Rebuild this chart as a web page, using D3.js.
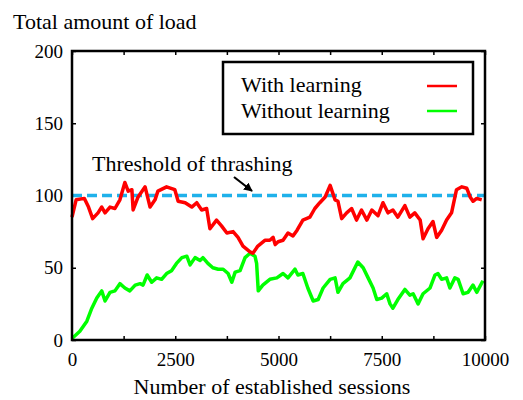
<!DOCTYPE html>
<html>
<head>
<meta charset="utf-8">
<script src="https://cdnjs.cloudflare.com/ajax/libs/d3/7.8.5/d3.min.js"></script>
</head>
<body style="margin:0">
<script>
// sessions established vs total load
const withSessions = [0, 100, 300, 400, 500, 630, 720, 800, 920, 1040, 1160, 1280, 1360, 1450, 1480, 1600, 1770, 1890, 2010, 2080, 2290, 2490, 2570, 2740, 2900, 3020, 3140, 3260, 3340, 3500, 3620, 3750, 3900, 4020, 4140, 4310, 4380, 4500, 4670, 4790, 4870, 4920, 4990, 5110, 5230, 5350, 5450, 5590, 5760, 5880, 6000, 6130, 6250, 6370, 6440, 6530, 6650, 6770, 6890, 7010, 7140, 7260, 7410, 7530, 7650, 7770, 7890, 8060, 8180, 8300, 8430, 8500, 8620, 8740, 8830, 8950, 9070, 9190, 9310, 9440, 9560, 9640, 9710, 9800, 9920];
const withLoad = [85, 97, 98, 92, 84, 88, 92, 88, 92, 91, 97, 109, 103, 104, 90, 99, 106, 92, 97, 103, 106, 104, 96, 95, 92, 95, 90, 91, 77, 83, 79, 74, 75, 71, 65, 61, 60, 65, 69, 69, 71, 66, 68, 69, 74, 72, 76, 83, 85, 91, 95, 99, 107, 97, 96, 84, 88, 91, 83, 90, 83, 90, 86, 95, 88, 90, 85, 93, 85, 88, 83, 70, 77, 82, 71, 76, 83, 88, 104, 106, 105, 99, 96, 98, 97];

const withoutSessions = [0, 190, 360, 480, 600, 720, 800, 920, 1040, 1160, 1280, 1400, 1530, 1650, 1720, 1820, 1930, 2050, 2170, 2290, 2410, 2530, 2660, 2780, 2860, 2980, 3100, 3170, 3290, 3410, 3540, 3660, 3780, 3870, 3950, 4070, 4190, 4310, 4430, 4470, 4510, 4620, 4790, 4960, 5110, 5230, 5400, 5470, 5590, 5710, 5840, 5960, 6080, 6250, 6370, 6440, 6560, 6730, 6920, 7050, 7170, 7290, 7380, 7500, 7620, 7700, 7770, 7890, 8060, 8180, 8260, 8380, 8500, 8670, 8790, 8860, 8950, 9070, 9150, 9270, 9350, 9470, 9590, 9710, 9800, 9950];
const withoutLoad = [1, 6, 13, 22, 29, 34, 27, 33, 34, 39, 36, 34, 38, 39, 38, 45, 40, 43, 42, 46, 48, 53, 57, 58, 52, 57, 55, 57, 53, 50, 49, 49, 46, 40, 47, 48, 57, 60, 58, 53, 34, 38, 42, 43, 46, 43, 49, 45, 46, 36, 27, 28, 36, 42, 43, 33, 39, 43, 54, 50, 43, 36, 28, 29, 32, 25, 22, 28, 35, 31, 32, 25, 32, 36, 45, 46, 42, 43, 36, 43, 42, 32, 33, 38, 33, 41];

const threshold = 100;
const xTicks = [0, 1250, 2500, 3750, 5000, 6250, 7500, 8750, 10000];
const yTicks = [0, 50, 100, 150, 200];
const seriesNames = ["With learning", "Without learning"];
const seriesColors = ["#ff0000", "#00ff00"];

const w = 523, h = 400;
const margin = {top: 51, right: 38, bottom: 60, left: 72};

const svg = d3.select("body").append("svg")
    .attr("width", w)
    .attr("height", h);

const x = d3.scaleLinear().domain([0, 10000]).range([margin.left, w - margin.right]);
const y = d3.scaleLinear().domain([0, 200]).range([h - margin.bottom, margin.top]);

function setFont(sel, size) {
    return sel.style("font-family", "'Times New Roman'")
        .attr("font-size", size)
        .attr("fill", "#000");
}

function styleAxis(g) {
    g.attr("font-family", null);
    g.select(".domain").remove();
    g.selectAll("line").attr("stroke", "#000").attr("stroke-width", 1.5);
    g.selectAll("text").call(setFont, 19);
}

// axes, ticks point inward
svg.append("g")
    .attr("transform", "translate(0," + y(0) + ")")
    .call(d3.axisBottom(x).tickValues(xTicks).tickSizeInner(-4).tickSizeOuter(0).tickPadding(13)
        .tickFormat(d => d % 2500 === 0 ? d : ""))
    .call(styleAxis);

svg.append("g")
    .attr("transform", "translate(0," + y(200) + ")")
    .call(d3.axisTop(x).tickValues(xTicks).tickSizeInner(-4).tickSizeOuter(0).tickFormat(""))
    .call(styleAxis);

svg.append("g")
    .attr("transform", "translate(" + x(0) + ",0)")
    .call(d3.axisLeft(y).tickValues(yTicks).tickSizeInner(-4).tickSizeOuter(0).tickPadding(9))
    .call(styleAxis);

svg.append("g")
    .attr("transform", "translate(" + x(10000) + ",0)")
    .call(d3.axisRight(y).tickValues(yTicks).tickSizeInner(-4).tickSizeOuter(0).tickFormat(""))
    .call(styleAxis);

// threshold line
svg.append("line")
    .attr("x1", x(0)).attr("x2", x(10000))
    .attr("y1", y(threshold)).attr("y2", y(threshold))
    .attr("stroke", "#1fb1ea")
    .attr("stroke-width", 3.5)
    .attr("stroke-dasharray", "10,5");

const line = d3.line().x(d => x(d[0])).y(d => y(d[1]));

svg.append("path")
    .datum(withoutSessions.map((s, i) => [s, withoutLoad[i]]))
    .attr("fill", "none")
    .attr("stroke", seriesColors[1])
    .attr("stroke-width", 3.5)
    .attr("stroke-linejoin", "round")
    .attr("d", line);

svg.append("path")
    .datum(withSessions.map((s, i) => [s, withLoad[i]]))
    .attr("fill", "none")
    .attr("stroke", seriesColors[0])
    .attr("stroke-width", 3.5)
    .attr("stroke-linejoin", "round")
    .attr("d", line);

// frame
svg.append("rect")
    .attr("x", x(0)).attr("y", y(200))
    .attr("width", x(10000) - x(0)).attr("height", y(0) - y(200))
    .attr("fill", "none").attr("stroke", "#000").attr("stroke-width", 2.5);

// legend
const legend = svg.append("g");
legend.append("rect")
    .attr("x", 223).attr("y", 62).attr("width", 250).attr("height", 72)
    .attr("fill", "#fff").attr("stroke", "#000").attr("stroke-width", 2.5);
seriesNames.forEach((name, i) => {
    legend.append("text")
        .attr("x", 241).attr("y", 92 + i * 26)
        .call(setFont, 22)
        .text(name);
    legend.append("line")
        .attr("x1", 427).attr("x2", 457)
        .attr("y1", 86 + i * 25).attr("y2", 86 + i * 25)
        .attr("stroke", seriesColors[i]).attr("stroke-width", 2.5);
});

// annotation
svg.append("defs").append("marker")
    .attr("id", "arrow")
    .attr("viewBox", "0 0 10 10")
    .attr("refX", 9).attr("refY", 5)
    .attr("markerWidth", 4).attr("markerHeight", 4)
    .attr("orient", "auto")
    .append("path").attr("d", "M0,0 L10,5 L0,10 Z").attr("fill", "#000");

svg.append("text")
    .attr("x", 92).attr("y", 171)
    .call(setFont, 22)
    .text("Threshold of thrashing");

svg.append("line")
    .attr("x1", 234).attr("y1", 177)
    .attr("x2", 252).attr("y2", 191)
    .attr("stroke", "#000").attr("stroke-width", 2.2)
    .attr("marker-end", "url(#arrow)");

// axis titles
svg.append("text")
    .attr("x", 13).attr("y", 29)
    .call(setFont, 22)
    .text("Total amount of load");

svg.append("text")
    .attr("x", 272).attr("y", 394)
    .attr("text-anchor", "middle")
    .call(setFont, 22)
    .text("Number of established sessions");
</script>
</body>
</html>
